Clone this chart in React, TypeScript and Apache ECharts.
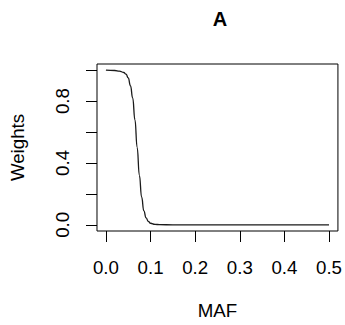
import React, { useEffect, useRef } from "react";
import * as echarts from "echarts";

const mafValues = [0.0, 0.02, 0.03, 0.04, 0.045, 0.05, 0.055, 0.06, 0.065, 0.07, 0.075, 0.08, 0.085, 0.09, 0.095, 0.1, 0.11, 0.12, 0.15, 0.2, 0.3, 0.4, 0.5];
const weightValues = [1.0, 0.998, 0.994, 0.985, 0.975, 0.95, 0.9, 0.82, 0.68, 0.5, 0.32, 0.18, 0.09, 0.045, 0.022, 0.01, 0.003, 0.001, 0.0, 0.0, 0.0, 0.0, 0.0];
const xTicks = [0, 0.1, 0.2, 0.3, 0.4, 0.5];
const yTicks = [0, 0.2, 0.4, 0.6, 0.8, 1.0];
const yLabels = [0, 0.4, 0.8];

const FONT = "Liberation Sans, Arial, Helvetica, sans-serif";

export default function App() {
  const ref = useRef<HTMLDivElement>(null);
  useEffect(() => {
    if (!ref.current) return;
    const chart = echarts.init(ref.current, null, { renderer: "svg" });
    const data = mafValues.map((x, i) => [x, weightValues[i]]);
    chart.setOption({
      animation: false,
      backgroundColor: "#fff",
      textStyle: { fontFamily: FONT },
      graphic: [
        {
          type: "text",
          x: 220,
          y: 19,
          style: {
            text: "A",
            align: "center",
            verticalAlign: "middle",
            font: `bold 20px ${FONT}`,
            fill: "#000",
          },
        },
      ],
      grid: {
        left: 97,
        top: 64,
        right: 6,
        bottom: 88,
        show: true,
        borderColor: "#000",
        borderWidth: 1,
        backgroundColor: "transparent",
      },
      xAxis: {
        type: "value",
        min: -0.02,
        max: 0.52,
        name: "MAF",
        nameLocation: "middle",
        nameGap: 70,
        nameTextStyle: { fontSize: 18.7, color: "#000", fontFamily: FONT },
        axisLine: { show: false, onZero: false },
        splitLine: { show: false },
        axisTick: {
          show: true,
          inside: false,
          length: 11,
          customValues: xTicks,
          lineStyle: { color: "#000", width: 1 },
        },
        axisLabel: {
          customValues: xTicks,
          margin: 27,
          fontSize: 18.7,
          color: "#000",
          fontFamily: FONT,
          formatter: (v: number) => v.toFixed(1),
        },
      },
      yAxis: {
        type: "value",
        min: -0.04,
        max: 1.04,
        name: "Weights",
        nameLocation: "middle",
        nameGap: 70,
        nameRotate: 90,
        nameTextStyle: { fontSize: 18.7, color: "#000", fontFamily: FONT },
        axisLine: { show: false, onZero: false },
        splitLine: { show: false },
        axisTick: {
          show: true,
          inside: false,
          length: 11,
          customValues: yTicks,
          lineStyle: { color: "#000", width: 1 },
        },
        axisLabel: {
          customValues: yLabels,
          rotate: 90,
          margin: 25,
          fontSize: 18.7,
          color: "#000",
          fontFamily: FONT,
          formatter: (v: number) => v.toFixed(1),
        },
      },
      series: [
        {
          type: "line",
          data,
          showSymbol: false,
          smooth: true,
          smoothMonotone: "x",
          lineStyle: { color: "#1a1a1a", width: 1.3 },
        },
      ],
    });
    return () => chart.dispose();
  }, []);
  return (
    <div
      ref={ref}
      style={{ position: "fixed", left: 0, top: 0, width: 345, height: 325 }}
    />
  );
}
